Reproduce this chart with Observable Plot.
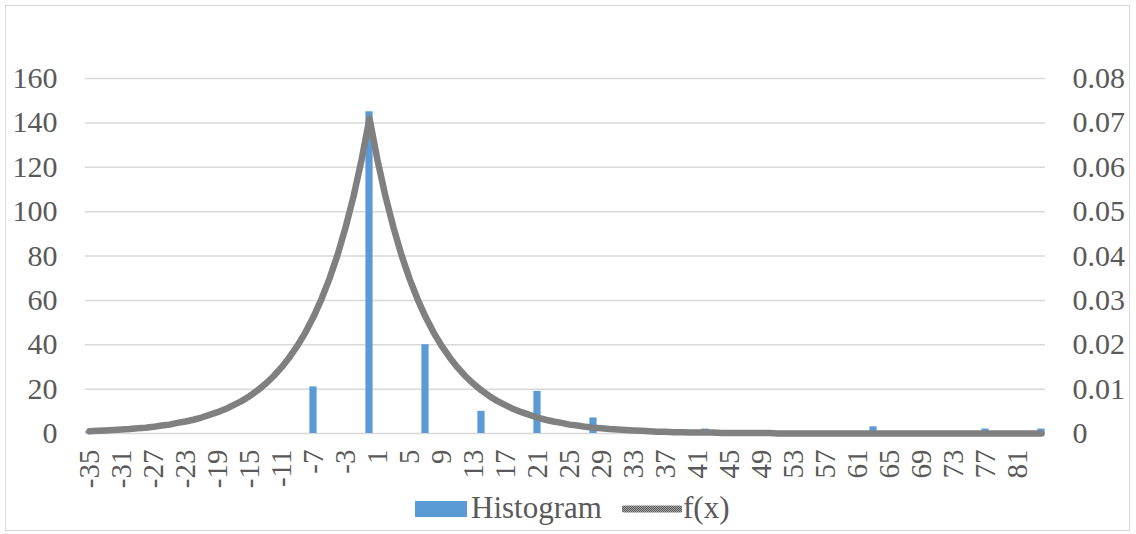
<!DOCTYPE html>
<html>
<head>
<meta charset="utf-8">
<script src="https://cdn.jsdelivr.net/npm/d3@7"></script>
<script src="https://cdn.jsdelivr.net/npm/@observablehq/plot@0.6"></script>
<style>
  html, body { margin: 0; padding: 0; background: #ffffff; }
  #frame { position: absolute; left: 5px; top: 5px; width: 1125px; height: 526px; border: 1px solid #d9d9d9; box-sizing: border-box; }
  #chart { position: absolute; left: 0; top: 0; }
  #chart svg text { font-family: "Liberation Serif", "Times New Roman", serif; }
  #legend { position: absolute; left: 0; top: 488px; width: 1136px; height: 40px; font-family: "Liberation Serif", "Times New Roman", serif; font-size: 31px; color: #595959; }
  .sw { position: absolute; }
  .lt { position: absolute; top: 0; line-height: 40px; }
</style>
</head>
<body>
<div id="frame"></div>
<div id="chart"></div>
<div id="legend">
  <div class="sw" style="left:415px; top:13px; width:52px; height:16px; background:#5b9bd5;"></div>
  <div class="lt" style="left:471px;">Histogram</div>
  <svg class="sw" style="left:622px; top:14px;" width="60" height="14"><defs><pattern id="hatchL" width="2" height="2" patternUnits="userSpaceOnUse"><rect width="2" height="2" fill="#ababab"/><rect width="1" height="1" fill="#555555"/><rect x="1" y="1" width="1" height="1" fill="#555555"/></pattern></defs><line x1="2" y1="7" x2="58" y2="7" stroke="url(#hatchL)" stroke-width="7" stroke-linecap="round"/></svg>
  <div class="lt" style="left:683px;">f(x)</div>
</div>
<script>
// ---- data ----
const histBins   = [-35, -28, -21, -14, -7, 0, 7, 14, 21, 28, 35, 42, 49, 56, 63, 70, 77, 84];
const histCounts = [  1,   0,   0,   0, 21, 145, 40, 10, 19, 7, 0, 2, 0, 1, 3, 1, 2, 2];

const categories = d3.range(-35, 85); // -35 .. 84
const fValues = [
  // -35 .. -1
  0.0005, 0.0006, 0.0007, 0.0008, 0.0009, 0.0010, 0.0012, 0.0013, 0.0015, 0.0018,
  0.0020, 0.0024, 0.0027, 0.0031, 0.0036, 0.0042, 0.0048, 0.0055, 0.0064, 0.0073,
  0.0084, 0.0097, 0.0112, 0.0129, 0.0149, 0.0172, 0.0198, 0.0228, 0.0263, 0.0303,
  0.0349, 0.0402, 0.0464, 0.0534, 0.0616,
  // 0
  0.0710,
  // 1 .. 84
  0.0616, 0.0534, 0.0464, 0.0402, 0.0349, 0.0303, 0.0263, 0.0228, 0.0198, 0.0172,
  0.0149, 0.0129, 0.0112, 0.0097, 0.0084, 0.0073, 0.0064, 0.0055, 0.0048, 0.0042,
  0.0036, 0.0031, 0.0027, 0.0024, 0.0020, 0.0018, 0.0015, 0.0013, 0.0012, 0.0010,
  0.0009, 0.0008, 0.0007, 0.0006, 0.0005, 0.0004, 0.0004, 0.0003, 0.0003, 0.0002,
  0.0002, 0.0002, 0.0002, 0.0001, 0.0001, 0.0001, 0.0001, 0.0001, 0.0001, 0.0001,
  0.0000, 0.0000, 0.0000, 0.0000, 0.0000, 0.0000, 0.0000, 0.0000, 0.0000, 0.0000,
  0.0000, 0.0000, 0.0000, 0.0000, 0.0000, 0.0000, 0.0000, 0.0000, 0.0000, 0.0000,
  0.0000, 0.0000, 0.0000, 0.0000, 0.0000, 0.0000, 0.0000, 0.0000, 0.0000, 0.0000,
  0.0000, 0.0000, 0.0000, 0.0000
];

const leftTicks  = [0, 20, 40, 60, 80, 100, 120, 140, 160];
const rightTickLabels = ["0", "0.01", "0.02", "0.03", "0.04", "0.05", "0.06", "0.07", "0.08"];
const xTickLabels = d3.range(-35, 82, 4); // -35, -31, ..., 81
const leftMax = 160, rightMax = 0.08;

// ---- tables ----
const hist = histBins.map((b, i) => ({bin: b, count: histCounts[i]}));
const fx = categories.map((c, i) => ({x: c, f: fValues[i]}));
const k = leftMax / rightMax;
const serif = "'Liberation Serif', 'Times New Roman', serif";

const chart = Plot.plot({
  width: 1136,
  height: 488,
  marginLeft: 85,
  marginRight: 91,
  marginTop: 78,
  marginBottom: 55,
  style: {fontFamily: serif, fontSize: "30px", color: "#595959", background: "transparent", overflow: "visible"},
  x: {type: "linear", domain: [-35.5, 84.5]},
  y: {domain: [0, leftMax]},
  marks: [
    Plot.gridY(leftTicks, {stroke: "#d9d9d9", strokeOpacity: 1, strokeWidth: 1.5}),
    Plot.rectY(hist, {x1: d => d.bin - 0.5, x2: d => d.bin + 0.5, y: "count", fill: "#5b9bd5", insetLeft: 0.4, insetRight: 0.4}),
    Plot.line(fx, {x: "x", y: d => d.f * k, stroke: "url(#hatch)", strokeWidth: 6.5, strokeLinejoin: "round", strokeLinecap: "round"}),
    Plot.axisY(leftTicks, {anchor: "left", tickSize: 0, tickPadding: 28, label: null, fill: "#595959", fontFamily: serif,
      tickFormat: d => String(d)}),
    Plot.axisY(leftTicks, {anchor: "right", tickSize: 0, tickPadding: 27, label: null, textAnchor: "start", fill: "#595959", fontFamily: serif,
      tickFormat: d => rightTickLabels[leftTicks.indexOf(d)]}),
    Plot.axisX(xTickLabels, {anchor: "bottom", tickSize: 0, tickPadding: 16, tickRotate: -90, label: null, fill: "#595959", fontSize: 29, fontFamily: serif,
      tickFormat: d => String(d)})
  ]
});

// hatched stroke pattern for the f(x) line
const defs = d3.select(chart).insert("defs", ":first-child");
const pat = defs.append("pattern").attr("id", "hatch").attr("width", 2).attr("height", 2).attr("patternUnits", "userSpaceOnUse");
pat.append("rect").attr("width", 2).attr("height", 2).attr("fill", "#ababab");
pat.append("rect").attr("width", 1).attr("height", 1).attr("fill", "#555555");
pat.append("rect").attr("x", 1).attr("y", 1).attr("width", 1).attr("height", 1).attr("fill", "#555555");

document.getElementById("chart").appendChild(chart);
</script>
</body>
</html>
